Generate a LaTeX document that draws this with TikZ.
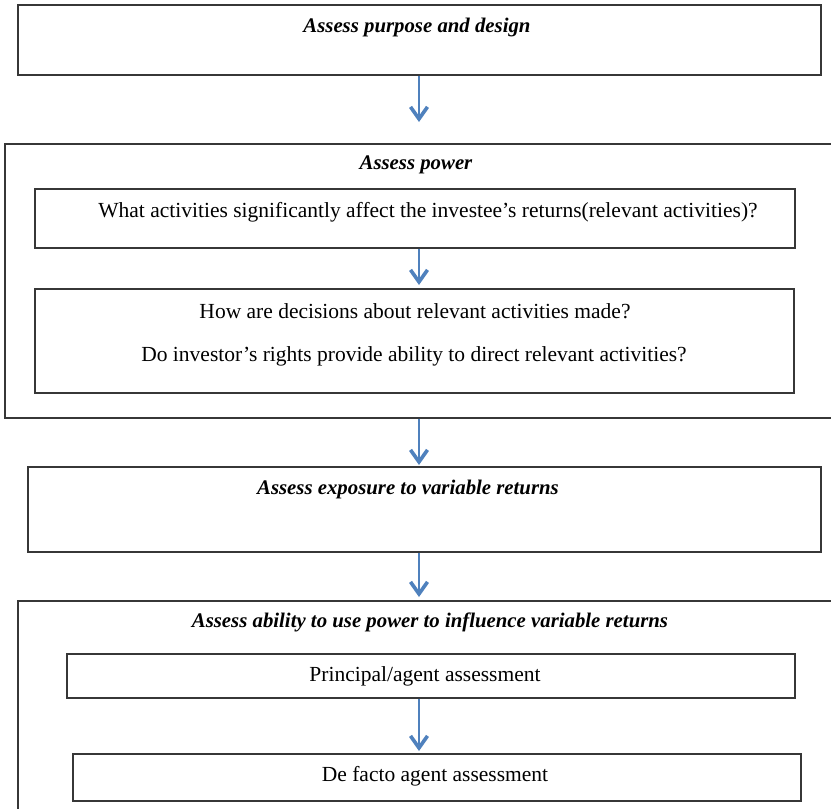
\documentclass[tikz,border=0pt]{standalone}
\usepackage{fontspec}
\setmainfont{Liberation Serif}
\usetikzlibrary{arrows.meta}
\definecolor{arrblue}{RGB}{79,129,189}
\definecolor{edge}{RGB}{55,55,55}
\tikzset{
  box/.style={draw=edge, line width=1.5pt, inner sep=0pt, anchor=north west},
  ttl/.style={font=\fontsize{20.8}{24}\selectfont\bfseries\itshape, inner sep=0pt},
  txt/.style={font=\fontsize{21.5}{24}\selectfont, inner sep=0pt},
  arr/.style={draw=arrblue, line width=2.2pt, -{Straight Barb[length=12pt,width=17pt,line width=3.6pt]}}
}
\begin{document}
\begin{tikzpicture}[x=1pt,y=-1pt]
\useasboundingbox (0,0) rectangle (831,809);
\clip (0,0) rectangle (831,809);
\fill[white] (0,0) rectangle (831,809);
% boxes
\node[box, minimum width=803pt, minimum height=70pt] (b1) at (17,4) {};
\node[box, minimum width=840pt, minimum height=274pt] (b2) at (4,143) {};
\node[box, minimum width=760pt, minimum height=59pt] (b2a) at (34,188) {};
\node[box, minimum width=759pt, minimum height=104pt] (b2b) at (34,288) {};
\node[box, minimum width=793pt, minimum height=85pt] (b3) at (27,466) {};
\node[box, minimum width=830pt, minimum height=230pt] (b4) at (17,600) {};
\node[box, minimum width=728pt, minimum height=44pt] (b4a) at (66,653) {};
\node[box, minimum width=728pt, minimum height=47pt] (b4b) at (72,753) {};
% texts
\node[ttl] (t1) at (417,27) {Assess purpose and design};
\node[ttl] (t2) at (416,165) {Assess power};
\node[txt] (t2a) at (428,212) {What activities significantly affect the investee’s returns(relevant activities)?};
\node[txt] (t2b) at (415,311) {How are decisions about relevant activities made?};
\node[txt] (t2c) at (414,356) {Do investor’s rights provide ability to direct relevant activities?};
\node[ttl] (t3) at (408,489) {Assess exposure to variable returns};
\node[ttl] (t4) at (430,622) {Assess ability to use power to influence variable returns};
\node[txt] (t4a) at (425,676) {Principal/agent assessment};
\node[txt] (t4b) at (435,776) {De facto agent assessment};
% arrows
\coordinate (a1) at (419,122);
\coordinate (a2) at (419,285);
\coordinate (a3) at (419,465);
\coordinate (a4) at (419,597);
\coordinate (a5) at (419,751);
\draw[arr] (b1.south -| a1) -- (a1);
\draw[arr] (b2a.south -| a2) -- (a2);
\draw[arr] (b2.south -| a3) -- (a3);
\draw[arr] (b3.south -| a4) -- (a4);
\draw[arr] (b4a.south -| a5) -- (a5);
\end{tikzpicture}
\end{document}
